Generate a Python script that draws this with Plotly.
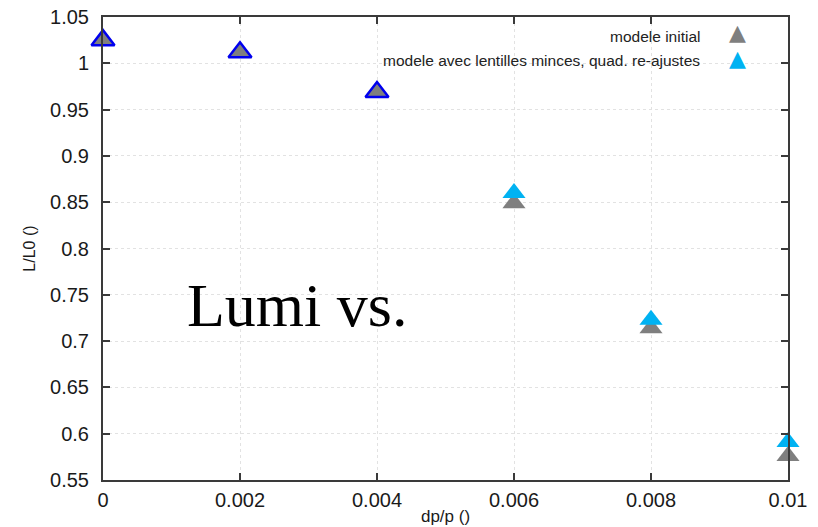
import plotly.graph_objects as go

# ---- data ----
dpp = [0.0, 0.002, 0.004, 0.006, 0.008, 0.010]
lumi_initial = [1.025, 1.012, 0.969, 0.849, 0.714, 0.576]
lumi_thin = [1.025, 1.012, 0.969, 0.860, 0.723, 0.591]
series_names = ["modele initial", "modele avec lentilles minces, quad. re-ajustes"]
x_tickvals = [0, 0.002, 0.004, 0.006, 0.008, 0.01]
x_ticktext = ["0", "0.002", "0.004", "0.006", "0.008", "0.01"]
y_tickvals = [0.55, 0.6, 0.65, 0.7, 0.75, 0.8, 0.85, 0.9, 0.95, 1.0, 1.05]
y_ticktext = ["0.55", "0.6", "0.65", "0.7", "0.75", "0.8", "0.85", "0.9", "0.95", "1", "1.05"]

GREY = "#7f7f7f"
CYAN = "#00b2f2"
BLUE = "#0000ee"
SANS = "Liberation Sans, Arial, sans-serif"

# points where both models coincide are drawn grey with a blue outline
overlap = [abs(a - b) < 1e-9 for a, b in zip(lumi_initial, lumi_thin)]
thin_fill = ["rgba(0,0,0,0)" if o else CYAN for o in overlap]
thin_line_col = [BLUE if o else CYAN for o in overlap]
thin_line_w = [2.5 if o else 0 for o in overlap]

fig = go.Figure()
fig.add_trace(go.Scatter(
    x=dpp, y=lumi_initial, mode="markers", name=series_names[0],
    marker=dict(symbol="triangle-up", size=20, color=GREY, line=dict(width=0)),
    cliponaxis=False, showlegend=False,
))
fig.add_trace(go.Scatter(
    x=dpp, y=lumi_thin, mode="markers", name=series_names[1],
    marker=dict(symbol="triangle-up", size=20, color=thin_fill,
                line=dict(color=thin_line_col, width=thin_line_w)),
    cliponaxis=False, showlegend=False,
))

axis_common = dict(
    showline=True, linecolor="#3a3a3a", linewidth=2, mirror="ticks",
    ticks="inside", ticklen=7, tickwidth=1.5, tickcolor="#3a3a3a",
    showgrid=True, gridcolor="#e2e2e2", griddash="dot", gridwidth=1,
    zeroline=False, automargin=False,
    tickfont=dict(family=SANS, size=20, color="#1a1a1a"),
)

fig.update_xaxes(
    range=[0, 0.01], tickvals=x_tickvals, ticktext=x_ticktext,
    title=dict(text="dp/p ()", font=dict(family=SANS, size=17, color="#1a1a1a"), standoff=0),
    ticklabelstandoff=1, **axis_common,
)
fig.update_yaxes(
    range=[0.55, 1.05], tickvals=y_tickvals, ticktext=y_ticktext,
    title=dict(text="L/L0 ()", font=dict(family=SANS, size=16, color="#1a1a1a"), standoff=10),
    ticklabelstandoff=8, **axis_common,
)

annotations = [
    dict(text="Lumi vs.", xref="paper", yref="paper", x=0.1197, y=0.378,
         xanchor="left", yanchor="middle", showarrow=False,
         font=dict(family="Liberation Serif, Times New Roman, serif", size=62, color="black")),
    dict(text=series_names[0], xref="paper", yref="paper", x=0.8745, y=0.958,
         xanchor="right", yanchor="middle", showarrow=False,
         font=dict(family=SANS, size=15.5, color="#222")),
    dict(text=series_names[1], xref="paper", yref="paper", x=0.8745, y=0.906,
         xanchor="right", yanchor="middle", showarrow=False,
         font=dict(family=SANS, size=15.5, color="#222")),
    dict(text="▲", xref="paper", yref="paper", x=0.926, y=0.967,
         xanchor="center", yanchor="middle", showarrow=False,
         font=dict(family="DejaVu Sans", size=22, color=GREY)),
    dict(text="▲", xref="paper", yref="paper", x=0.926, y=0.91,
         xanchor="center", yanchor="middle", showarrow=False,
         font=dict(family="DejaVu Sans", size=22, color=CYAN)),
]

fig.update_layout(
    width=818, height=527,
    margin=dict(l=103, r=30, t=17, b=47),
    paper_bgcolor="white", plot_bgcolor="white",
    annotations=annotations,
)

fig.write_html("out.html")
